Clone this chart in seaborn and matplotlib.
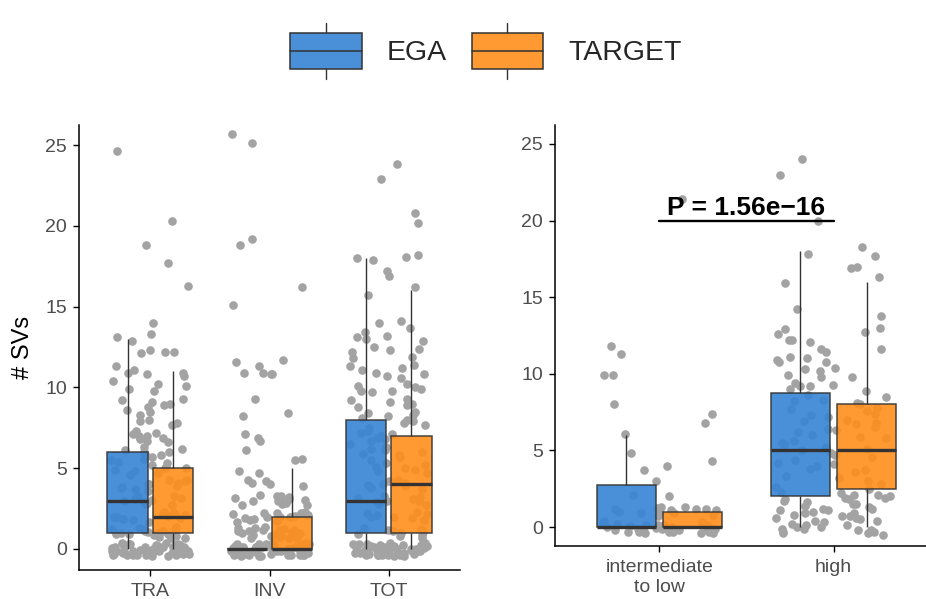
import numpy as np
import pandas as pd
import matplotlib
matplotlib.use("Agg")
import matplotlib.pyplot as plt
import seaborn as sns
from matplotlib.legend_handler import HandlerBase
from matplotlib.patches import Rectangle, Patch
from matplotlib.lines import Line2D

sns.set_style("ticks")
plt.rcParams["font.family"] = ["Liberation Sans", "DejaVu Sans"]

groups = ["EGA", "TARGET"]
colors = ["#3684D5", "#FF8E1C"]

# box summaries: whisker low, q1, median, q3, whisker high
left_cats = ["TRA", "INV", "TOT"]
left_ega = [[0, 1, 3, 6, 13], [0, 0, 0, 0, 0], [0, 1, 3, 8, 18]]
left_target = [[0, 1, 2, 5, 11], [0, 0, 0, 2, 5], [0, 1, 4, 7, 16]]

right_cats = ["intermediate\nto low", "high"]
right_ega = [[0, 0, 0, 2.75, 6], [0, 2, 5, 8.75, 18]]
right_target = [[0, 0, 0, 1, 1], [0, 2.5, 5, 8, 16]]

# jittered points (both groups together)
tra_pts = [24.6, 20.3, 18.8, 17.7, 16.3, 14.0, 13.3, 13.1, 12.9, 12.3, 12.2, 12.2,
           12.1, 11.3, 11.1, 10.9, 10.9, 10.8, 10.7, 10.4, 10.2, 10.1, 9.9, 9.8,
           9.3, 9.2, 9.1, 9.0, 8.9, 8.8, 8.6, 8.5, 8.3, 8.0, 7.9, 7.8, 7.7, 7.3,
           7.2, 7.1, 7.0, 7.0, 6.9, 6.8, 6.7, 6.6, 6.3, 6.2, 6.1, 6.0, 6.0, 5.9,
           5.8, 5.7, 5.6, 5.5, 5.4, 5.3, 5.2, 5.1, 5.0, 5.0, 4.9, 4.8, 4.7, 4.6,
           4.3, 4.2, 4.1, 4.0, 3.9, 3.8, 3.7, 3.6, 4.25, 4.05, 3.85,
           3.3, 3.2, 3.1, 3.0, 2.9, 2.8, 2.7, 3.25, 3.05, 2.85, 2.75, 3.15,
           2.3, 2.2, 2.1, 2.0, 1.9, 1.8, 1.7, 2.25, 2.05, 1.85, 2.15, 1.95,
           1.3, 1.2, 1.1, 1.0, 0.9, 0.8, 0.7, 1.25, 1.15, 1.05, 0.95, 0.85, 0.75,
           1.35, 0.65, 1.0, 0.9, 1.1,
           0.35, 0.3, 0.25, 0.2, 0.15, 0.1, 0.05, 0.0, -0.05, -0.1, -0.15, -0.2,
           -0.25, -0.3, -0.35, -0.4, -0.45, 0.3, 0.2, 0.1, 0.0, -0.1, -0.2, -0.3,
           -0.4, 0.25, 0.15, 0.05, -0.05, -0.15, -0.25, -0.35, -0.45, 0.35, 0.1,
           -0.2, -0.4, 0.2, 0.0, -0.3, 0.3, -0.1, -0.35, 0.15, -0.05, -0.25, 0.05,
           -0.15, 0.25]
inv_pts = [25.7, 25.1, 19.2, 18.8, 16.2, 15.1, 11.7, 11.6, 11.3, 10.9, 10.9, 10.8,
           10.8, 9.3, 8.4, 8.2, 7.1, 6.9, 6.7, 6.1, 5.6, 5.5, 4.8, 4.7, 4.3, 4.2,
           4.1, 4.0, 3.9,
           3.35, 3.3, 3.25, 3.2, 3.15, 3.1, 3.05, 3.0, 2.95, 2.9, 2.85, 2.8, 2.75,
           2.7, 2.3, 2.25, 2.2, 2.15, 2.1, 2.05, 2.0, 1.95, 1.9, 1.85, 1.8, 1.75,
           1.7, 2.2, 2.0, 1.35, 1.3, 1.25, 1.2, 1.15, 1.1, 1.05, 1.0, 0.95, 0.9,
           0.85, 0.8, 0.75, 0.7, 0.65, 1.2, 1.0, 0.9, 1.1, 0.8, 1.3, 0.7,
           0.35, 0.3, 0.25, 0.2, 0.15, 0.1, 0.05, 0.0, -0.05, -0.1, -0.15, -0.2,
           -0.25, -0.3, -0.35, -0.4, -0.45, 0.3, 0.2, 0.1, 0.0, -0.1, -0.2, -0.3,
           -0.4, 0.25, 0.15, 0.05, -0.05, -0.15, -0.25, -0.35, -0.45, 0.35, 0.1,
           -0.2, -0.4, 0.2, 0.0, -0.3, 0.3, -0.1, -0.35, 0.15, -0.05, -0.25, 0.05,
           -0.15, 0.25, 0.1, -0.3, 0.0, -0.4, 0.2, -0.1, 0.3, -0.2, -0.45, 0.05,
           -0.35, 0.15]
tot_pts = [23.8, 22.9, 20.8, 20.2, 18.2, 18.1, 18.0, 17.9, 17.2, 16.9, 16.2, 15.7,
           14.1, 14.0, 13.7, 13.4, 13.2, 13.1, 13.0, 12.9, 12.5, 12.4, 12.3, 12.2,
           11.9, 11.8, 11.4, 11.3, 11.2, 11.1, 10.9, 10.8, 10.7, 10.6, 10.2, 10.1,
           10.0, 9.9, 9.8, 9.8, 9.7, 9.3, 9.2, 9.1, 9.0, 8.9, 8.8, 8.5, 8.4, 8.3,
           8.2, 8.1, 8.0, 7.9, 7.8, 7.7, 7.5, 7.3, 7.2, 7.1, 7.0, 6.9, 6.8, 6.7,
           6.5, 6.3, 6.2, 6.1, 6.0, 5.9, 5.8, 5.7, 5.5, 5.3, 5.2, 5.1, 5.0, 4.9,
           4.8, 4.7, 4.3, 4.2, 4.1, 4.0, 3.9, 3.8, 3.7, 4.15, 3.95, 3.3, 3.2, 3.1,
           3.0, 2.9, 2.8, 2.7, 3.15, 2.95, 2.3, 2.2, 2.1, 2.0, 1.9, 1.8, 2.15,
           1.95, 1.3, 1.2, 1.1, 1.0, 0.9, 0.8, 0.7, 1.25, 1.05, 0.85,
           0.35, 0.3, 0.25, 0.2, 0.15, 0.1, 0.05, 0.0, -0.05, -0.1, -0.15, -0.2,
           -0.25, -0.3, -0.35, -0.4, -0.45, 0.3, 0.2, 0.1, 0.0, -0.1, -0.2, -0.3,
           -0.4, 0.25, 0.15, 0.05, -0.05, -0.15, -0.25, -0.35, -0.45, 0.35, 0.1,
           -0.2, -0.4, 0.2, 0.0, -0.3, 0.3, -0.1, -0.35, 0.15, -0.05, -0.25, 0.05,
           -0.15, 0.25]
lowint_pts = [21.4, 11.8, 11.3, 9.9, 9.9, 8.0, 7.4, 6.8, 6.1, 4.8, 4.3, 4.0, 3.7,
              3.0, 2.1, 2.0, 1.3, 1.3, 1.2, 1.2, 1.1, 1.1, 1.0, 1.0, 0.9, 0.9,
              0.8, 0.7, 1.25, 1.15, 0.4, 0.3, 0.2, 0.1, 0.1, 0.0, 0.0, -0.1, -0.1,
              -0.2, -0.2, -0.3, -0.3, -0.4, -0.4, -0.2, 0.0, -0.3, 0.2, -0.1,
              -0.4, 0.1, -0.3, -0.2, 0.15, -0.05, -0.25, -0.35, 0.05, -0.15]
high_pts = [24.0, 23.0, 20.0, 18.3, 17.8, 17.7, 17.0, 16.9, 16.3, 15.9, 14.2, 13.8,
            13.0, 12.9, 12.7, 12.6, 12.2, 12.2, 12.1, 11.6, 11.6, 11.4, 11.1, 11.0,
            10.9, 10.8, 10.8, 10.4, 10.3, 10.2, 9.9, 9.8, 9.8, 9.4, 9.3, 9.2, 9.2,
            9.0, 8.9, 8.6, 8.5, 8.3, 8.2, 8.1, 8.0, 7.8, 7.7, 7.6, 7.4, 7.3, 7.2,
            7.0, 6.9, 6.8, 6.7, 6.5, 6.4, 6.3, 6.2, 6.0, 5.9, 5.8, 5.6, 5.5, 5.4,
            5.2, 5.1, 5.0, 4.8, 4.7, 4.6, 4.4, 4.2, 4.1, 4.0, 3.8, 3.7, 3.6, 3.3,
            3.2, 3.0, 2.8, 2.6, 2.5, 2.3, 2.1, 1.9, 1.9, 1.8, 1.7, 1.5, 1.4, 1.2,
            1.1, 1.0, 0.9, 0.8, 0.7, 0.6, 0.5, 0.4, 0.3, 0.2, 0.1, 0.0, -0.1,
            -0.2, -0.3, -0.4, -0.5, 1.3, 0.9, 0.4, -0.2, 0.1, 1.6, 1.1, -0.3,
            0.6, 2.0, 2.2, 0.0, -0.4, 1.8, 1.2, 0.7, -0.1, 2.1, 1.5]

p_label = "P = 1.56e\u221216"
p_y = 20


def box_frame(cats, ega, target):
    rows = []
    for cat, e, t in zip(cats, ega, target):
        rows += [(cat, "EGA", v) for v in e]
        rows += [(cat, "TARGET", v) for v in t]
    return pd.DataFrame(rows, columns=["cat", "grp", "val"])


def draw(ax, cats, ega, target, pts):
    strip = pd.DataFrame({"cat": np.repeat(cats, [len(p) for p in pts]),
                          "val": np.concatenate(pts)})
    sns.stripplot(data=strip, x="cat", y="val", order=cats, color="#A3A3A3",
                  size=6.2, jitter=0.33, linewidth=0, zorder=1, ax=ax)
    sns.boxplot(data=box_frame(cats, ega, target), x="cat", y="val", hue="grp",
                order=cats, hue_order=groups, palette=colors, width=0.76, gap=0.1,
                whis=1.5, showfliers=False, showcaps=False, saturation=1,
                linecolor="#333333", linewidth=1.1,
                medianprops=dict(linewidth=2.4, color="#333333"),
                whiskerprops=dict(linewidth=1.0), boxprops=dict(alpha=0.9),
                legend=False, ax=ax)
    sns.despine(ax=ax)
    for s in ["left", "bottom"]:
        ax.spines[s].set_linewidth(1.1)
        ax.spines[s].set_color("black")
    ax.tick_params(length=4.5, width=1.0, color="black", labelsize=14,
                   labelcolor="#4D4D4D", pad=4)
    ax.tick_params(axis="x", pad=5)
    ax.set_yticks([0, 5, 10, 15, 20, 25])
    ax.set_xlabel("")
    ax.set_ylabel("")


class BoxHandler(HandlerBase):
    def create_artists(self, legend, orig_handle, xdescent, ydescent,
                       width, height, fontsize, trans):
        x0, y0 = -xdescent, -ydescent
        cx = x0 + width / 2
        lo, hi = y0 + 0.18 * height, y0 + 0.82 * height
        rect = Rectangle((x0, lo), width, hi - lo, facecolor=orig_handle.get_facecolor(),
                         edgecolor="#333333", lw=1.1, transform=trans)
        med = Line2D([x0, x0 + width], [y0 + height / 2] * 2, color="#333333",
                     lw=1.1, transform=trans)
        w1 = Line2D([cx, cx], [y0, lo], color="#333333", lw=1.0, transform=trans)
        w2 = Line2D([cx, cx], [hi, y0 + height], color="#333333", lw=1.0, transform=trans)
        return [w1, w2, rect, med]


np.random.seed(7)
fig = plt.figure(figsize=(9.26, 5.99), dpi=100)
ax1 = fig.add_axes([79 / 926, 1 - 570 / 599, 381 / 926, 445 / 599])
ax2 = fig.add_axes([555 / 926, 1 - 546 / 599, 383 / 926, 421 / 599])

draw(ax1, left_cats, left_ega, left_target, [tra_pts, inv_pts, tot_pts])
draw(ax2, right_cats, right_ega, right_target, [lowint_pts, high_pts])

ax1.set_xlim(-0.6, 2.6)
ax1.set_ylim(-1.3, 26.24)
ax2.set_xlim(-0.6, 1.6)
ax2.set_ylim(-1.24, 26.24)
ax1.set_ylabel("# SVs", fontsize=17, color="black", labelpad=8)

ax2.plot([0, 1], [p_y, p_y], color="black", lw=1.7)
ax2.text(0.5, p_y + 0.37, p_label, ha="center", va="baseline", fontsize=19,
         fontweight="bold", color="black")

handles = [Patch(facecolor=c, alpha=0.9) for c in colors]
fig.legend(handles, groups, handler_map={Patch: BoxHandler()}, loc="center",
           bbox_to_anchor=(486 / 926, 1 - 51 / 599), ncol=2, frameon=False,
           fontsize=20.5, handlelength=2.5, handleheight=2.6, handletextpad=0.88,
           columnspacing=0.88)

fig.savefig("out.png", dpi=100)
